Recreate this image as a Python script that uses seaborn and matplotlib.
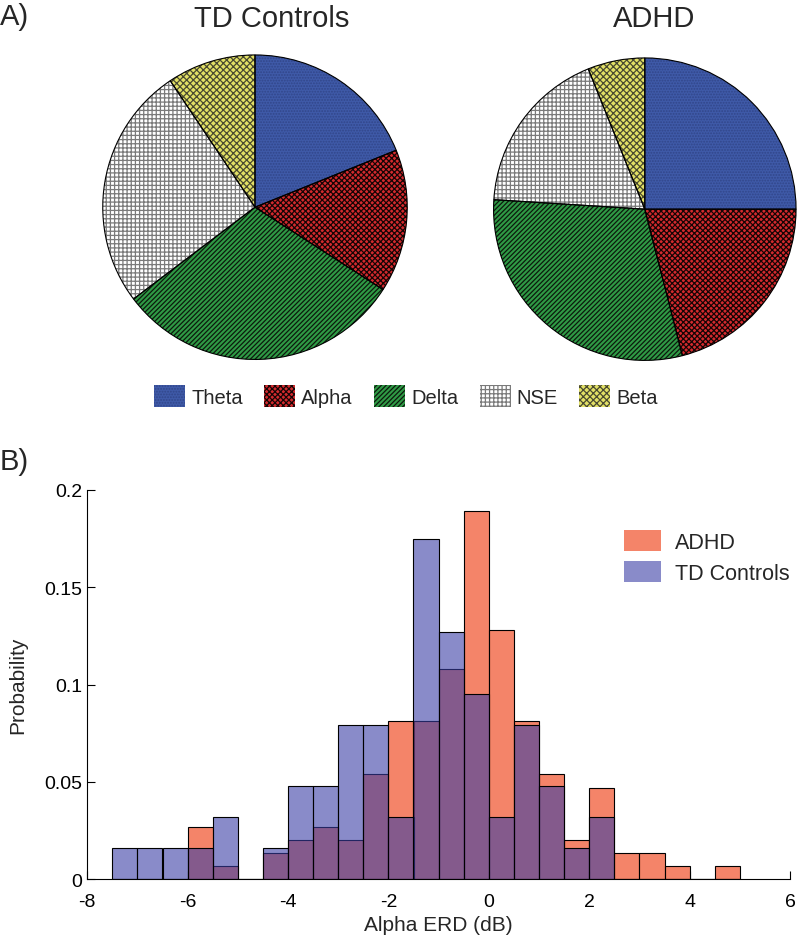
import numpy as np
import pandas as pd
import matplotlib
matplotlib.use("Agg")
import matplotlib.pyplot as plt
import seaborn as sns
from matplotlib.patches import Patch

# pie data (fractions of subjects per dominant band)
bands = ["Theta", "Alpha", "Delta", "NSE", "Beta"]
td_share = [0.189, 0.152, 0.306, 0.259, 0.094]
adhd_share = [0.250, 0.210, 0.300, 0.179, 0.061]
band_colors = ["#3f5aa8", "#d42a2e", "#2f9a45", "#ffffff", "#e2e066"]
band_hatch_colors = ["#31468a", "#150505", "#0c1a0d", "#7a7a7a", "#4a4a30"]
band_hatches = ["......", "xxxxxx", "///////", "++++", "xxxxx"]

# histogram data (probability per 0.5 dB bin, bins from -7.5 to 5)
bin_edges = [-7.5, -7.0, -6.5, -6.0, -5.5, -5.0, -4.5, -4.0, -3.5, -3.0, -2.5, -2.0, -1.5,
             -1.0, -0.5, 0.0, 0.5, 1.0, 1.5, 2.0, 2.5, 3.0, 3.5, 4.0, 4.5, 5.0]
adhd_prob = [0, 0, 0, 0.027, 0.0067, 0, 0.0134, 0.0202, 0.027, 0.0202, 0.054, 0.081,
             0.081, 0.108, 0.189, 0.128, 0.081, 0.054, 0.0202, 0.047, 0.0134, 0.0134,
             0.0067, 0, 0.0067]
td_prob = [0.0159, 0.0159, 0.0159, 0.0159, 0.0317, 0, 0.0159, 0.0476, 0.0476, 0.0794,
           0.0794, 0.0317, 0.1746, 0.127, 0.0952, 0.0317, 0.0794, 0.0476, 0.0159, 0.0317,
           0, 0, 0, 0, 0]
group_names = ["ADHD", "TD Controls"]
group_colors = ["#ee3305", "#3a3ea5"]

sns.set_style("ticks")
plt.rcParams["font.family"] = ["Liberation Sans", "DejaVu Sans"]
plt.rcParams["hatch.linewidth"] = 0.9
plt.rcParams["axes.unicode_minus"] = False

fig = plt.figure(figsize=(8, 9.37), dpi=100)

# ---- A) pies ----
def draw_pie(ax, share):
    wedges, _ = ax.pie(share, colors=band_colors, startangle=90, counterclock=False,
                       radius=1, wedgeprops=dict(linewidth=0))
    for w, h, hc in zip(wedges, band_hatches, band_hatch_colors):
        w.set_hatch(h)
        w.set_edgecolor(hc)
        w.set_linewidth(0)
    # black outlines on top
    ax.pie(share, colors=["none"] * len(share), startangle=90, counterclock=False,
           radius=1, wedgeprops=dict(linewidth=0.8, edgecolor="black"))
    ax.set_xlim(-1.005, 1.005)
    ax.set_ylim(-1.005, 1.005)
    ax.set_aspect("auto")
    ax.axis("off")
    return wedges

ax_td = fig.add_axes([0.1275, 0.6145, 0.3825, 0.3266])
wedges = draw_pie(ax_td, td_share)
ax_adhd = fig.add_axes([0.616, 0.6135, 0.38, 0.3244])
draw_pie(ax_adhd, adhd_share)

fig.text(272 / 800, 1 - 19 / 937, "TD Controls", ha="center", va="center", fontsize=21)
fig.text(654 / 800, 1 - 19 / 937, "ADHD", ha="center", va="center", fontsize=21)
fig.text(0.0, 1 - 17 / 937, "A)", ha="left", va="center", fontsize=21)

fig.legend(wedges, bands, loc="center", bbox_to_anchor=(406 / 800, 1 - 397 / 937),
           ncol=5, frameon=False, fontsize=14.5, handlelength=1.55, handleheight=1.25,
           handletextpad=0.3, columnspacing=1.05)

# ---- B) histogram ----
ax = fig.add_axes([0.109, 0.0608, 0.8785, 0.4152])
centers = [e + 0.25 for e in bin_edges[:-1]]
for probs, col in zip([adhd_prob, td_prob], group_colors):
    sns.histplot(x=centers, weights=probs, bins=bin_edges, ax=ax, color=col,
                 alpha=0.6, edgecolor="black", linewidth=0.8)

ax.set_xlim(-8, 6)
ax.set_ylim(0, 0.2)
ax.set_xticks(np.arange(-8, 7, 2))
ax.set_yticks([0, 0.05, 0.1, 0.15, 0.2])
ax.set_yticklabels(["0", "0.05", "0.1", "0.15", "0.2"])
ax.tick_params(direction="in", length=6, labelsize=14, width=0.8, colors="black")
ax.tick_params(axis="x", pad=10)
ax.set_xlabel("Alpha ERD (dB)", fontsize=15, labelpad=4)
ax.set_ylabel("Probability", fontsize=15, labelpad=12)
sns.despine(ax=ax)
for s in ["left", "bottom"]:
    ax.spines[s].set_linewidth(0.8)
    ax.spines[s].set_color("black")

handles = [Patch(facecolor=c, alpha=0.6, edgecolor="none") for c in group_colors]
ax.legend(handles, group_names, loc="upper right", bbox_to_anchor=(1.0, 0.897),
          frameon=False, fontsize=15.5, handlelength=1.75, handleheight=1.1,
          handletextpad=0.65, labelspacing=0.4, borderaxespad=0, borderpad=0)

fig.text(0.0, 1 - 462 / 937, "B)", ha="left", va="center", fontsize=21)

fig.savefig("out.png", dpi=100)
